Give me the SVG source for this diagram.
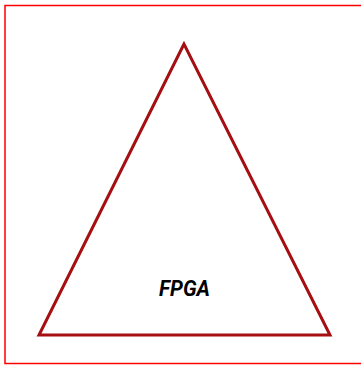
<svg xmlns="http://www.w3.org/2000/svg" width="361" height="365" viewBox="0 0 361 365">
<style>
.frame{fill:#ffffff;stroke:#ff0000;stroke-width:1.5}
.tri{fill:#ffffff;stroke:#a50f12;stroke-width:3;stroke-linejoin:miter}
.lbl{font-family:Roboto,"Liberation Sans",sans-serif;font-weight:bold;font-style:italic;font-size:22.5px;fill:#000000}
</style>
<rect class="frame" x="5" y="5.5" width="360" height="358"/>
<g id="fpga">
<polygon class="tri" points="184,44 39,335 330,335"/>
<text class="lbl" x="159" y="295.5" textLength="51" lengthAdjust="spacingAndGlyphs">FPGA</text>
</g>
<g id="connectors"/>
</svg>
